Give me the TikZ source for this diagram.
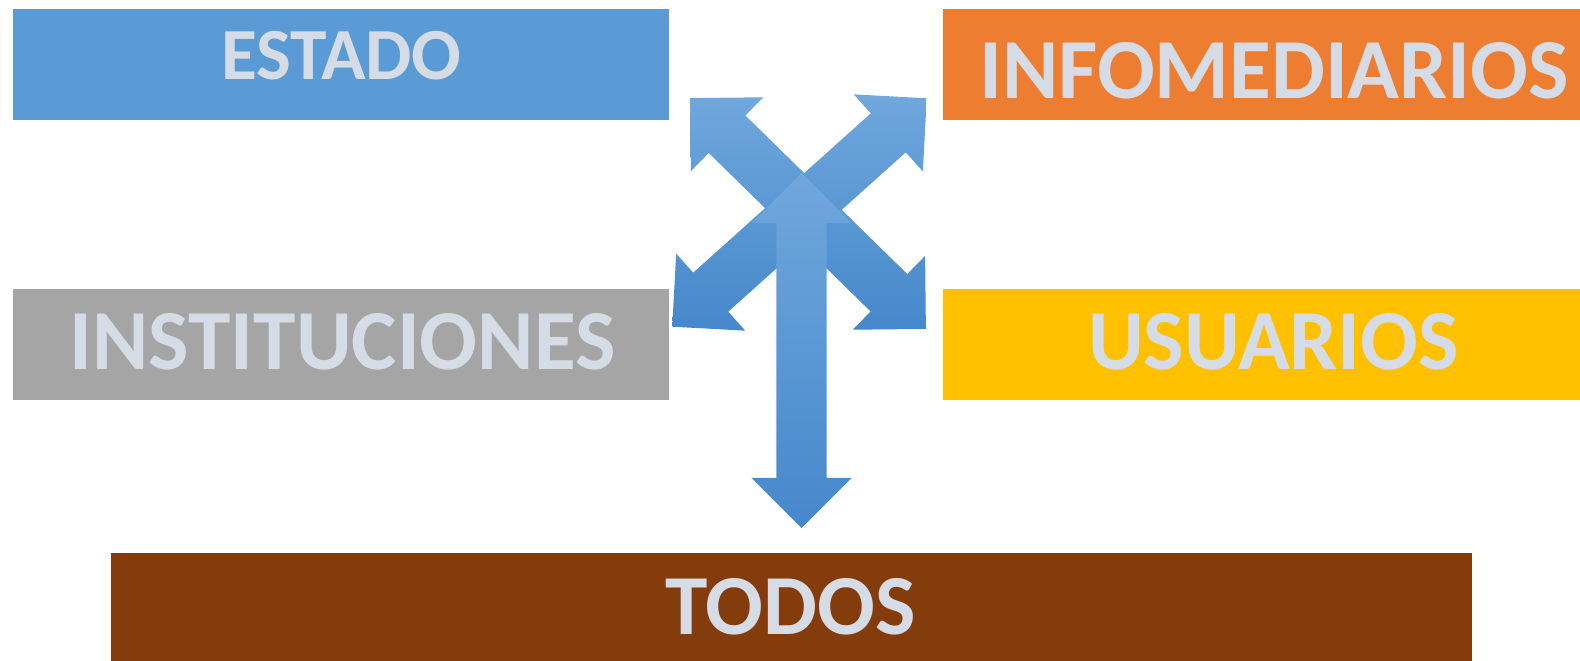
\documentclass[tikz,border=0pt]{standalone}
\usepackage{fontspec}
\setmainfont{Carlito}
\usetikzlibrary{shapes.arrows,positioning}

\definecolor{estadoblue}{HTML}{5B9BD5}
\definecolor{infoorange}{HTML}{ED7D31}
\definecolor{instgray}{HTML}{A5A5A5}
\definecolor{usuyellow}{HTML}{FFC000}
\definecolor{todosbrown}{HTML}{843C0C}
\definecolor{labelgray}{HTML}{D6DCE5}
\definecolor{arrowlight}{HTML}{70A7DD}
\definecolor{arrowdark}{HTML}{4588CB}

\begin{document}
\begin{tikzpicture}[x=1pt,y=-1pt,
	box/.style={rectangle, inner sep=0pt, minimum width=656pt, minimum height=111pt},
	boxtext/.style={text=labelgray, inner sep=0pt, anchor=base,
		font=\bfseries\fontsize{85.5}{90}\selectfont},
	bigarrow/.style={double arrow, double arrow tip angle=90, inner xsep=0pt,
		top color=arrowlight, bottom color=arrowdark, draw=none}]
	\useasboundingbox (0,0) rectangle (1580,661);
	
	% boxes
	\node[box, fill=estadoblue] (estado) at (341,64.5) {};
	\node[box, fill=infoorange] (infomed) at (1271,64.5) {};
	\node[box, fill=instgray] (instit) at (341,344.5) {};
	\node[box, fill=usuyellow] (usuarios) at (1271,344.5) {};
	\node[box, fill=todosbrown, minimum width=1361pt, minimum height=120pt] (todos) at (791.5,613) {};
	
	% labels
	\node[boxtext, font=\bfseries\fontsize{73.5}{78}\selectfont] (estadoLbl) at (341.5,80) {ESTADO};
	\node[boxtext] (infomedLbl) at (1274,99) {INFOMEDIARIOS};
	\node[boxtext] (institLbl) at (342.5,369) {INSTITUCIONES};
	\node[boxtext] (usuariosLbl) at (1273.5,369) {USUARIOS};
	\node[boxtext] (todosLbl) at (790.5,634) {TODOS};
	
	% arrows
	\node[bigarrow, minimum height=330pt, inner ysep=26pt, double arrow head extend=25.5pt,
		rotate=-44.4] (diagA) at (808,213.5) {};
	\node[bigarrow, minimum height=342pt, inner ysep=26pt, double arrow head extend=25.5pt,
		rotate=41.9] (diagB) at (799.5,212.5) {};
	\node[bigarrow, minimum height=355pt, inner ysep=25pt, double arrow head extend=25pt,
		rotate=90] (vert) at (801.5,350.5) {};
	
\end{tikzpicture}
\end{document}
